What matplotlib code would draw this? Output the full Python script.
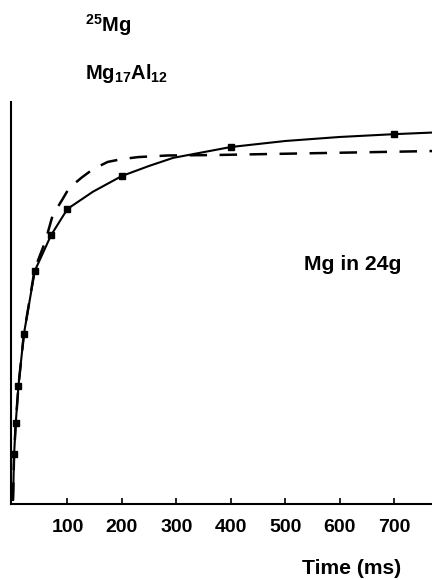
import matplotlib
matplotlib.use("Agg")
import matplotlib.pyplot as plt

plt.rcParams['font.family'] = ['Liberation Sans', 'DejaVu Sans']
plt.rcParams['font.weight'] = 'bold'
plt.rcParams['mathtext.fontset'] = 'custom'
plt.rcParams['mathtext.rm'] = 'Liberation Sans:bold'
plt.rcParams['mathtext.bf'] = 'Liberation Sans:bold'
plt.rcParams['mathtext.it'] = 'Liberation Sans:bold'

# measured data (markers)
meas_t = [2, 5, 10, 20, 40, 70, 100, 200, 400, 700]
meas_y = [0.124, 0.201, 0.294, 0.423, 0.580, 0.669, 0.734, 0.816, 0.888, 0.920]

# solid curve through data
solid_t = [0, 2, 5, 10, 20, 40, 70, 100, 147, 200, 250, 294, 400, 500, 600, 700, 770]
solid_y = [0.01, 0.124, 0.201, 0.294, 0.423, 0.580, 0.669, 0.734, 0.777, 0.816, 0.841, 0.861, 0.888, 0.903, 0.913, 0.920, 0.924]

# dashed (fit) curve
dash_t = [0, 2, 5, 10, 20, 40, 59, 73, 90, 103, 127, 147, 174, 200, 230, 285, 367, 527, 770]
dash_y = [0.01, 0.124, 0.201, 0.294, 0.423, 0.585, 0.652, 0.719, 0.756, 0.786, 0.813, 0.833, 0.851, 0.858, 0.863, 0.867, 0.868, 0.872, 0.878]

xticks = [100, 200, 300, 400, 500, 600, 700]

W, H = 432, 580
fig = plt.figure(figsize=(W / 100, H / 100), dpi=100)
ax = fig.add_axes([11 / W, (H - 504) / H, (W - 11) / W, (504 - 102) / H])

ax.plot(dash_t, dash_y, color='black', lw=1.8, dashes=(7, 5))
ax.plot(solid_t, solid_y, color='black', lw=1.5)
ax.plot(meas_t, meas_y, ls='none', marker='s', ms=4, color='black')

ax.set_xlim(-3.7, 769.5)
ax.set_ylim(0, 1)
ax.spines['top'].set_visible(False)
ax.spines['right'].set_visible(False)
ax.spines['left'].set_linewidth(1.5)
ax.spines['bottom'].set_linewidth(1.5)
ax.set_yticks([])
ax.set_xticks(xticks)
ax.set_xticklabels([str(v) for v in xticks], fontsize=14, fontweight='bold')
ax.tick_params(axis='x', direction='in', length=4, width=1.2, pad=10.5)

def fx(px):
    return px / W

def fy(py):
    return 1 - py / H

fig.text(fx(85), fy(32), r'$\mathbf{{}^{25}Mg}$', fontsize=14.5, va='baseline', ha='left')
fig.text(fx(85), fy(79), r'$\mathbf{Mg_{17}Al_{12}}$', fontsize=14.5, va='baseline', ha='left')
fig.text(fx(304), fy(270), 'Mg in 24g', fontsize=15.2, fontweight='bold', va='baseline', ha='left')
fig.text(fx(302), fy(574), 'Time (ms)', fontsize=15.2, fontweight='bold', va='baseline', ha='left')

fig.savefig('out.png', dpi=100)
